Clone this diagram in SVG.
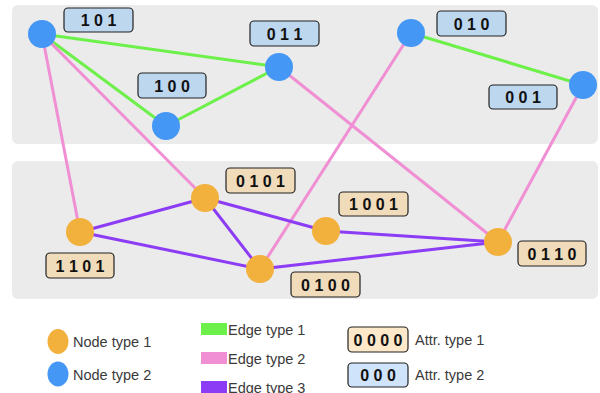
<svg xmlns="http://www.w3.org/2000/svg" width="600" height="393" viewBox="0 0 600 393">
<style>
.panel{fill:#EBEBEB}
.e{stroke-width:3;fill:none}
.g{stroke:#6DF04A}.p{stroke:#F08FD3}.v{stroke:#8C3CF5}
.bn{fill:#4497F5}.on{fill:#F2B03C}
.bl{fill:#BDD7EF;stroke:#222;stroke-width:1.2}
.ol{fill:#F0DBBA;stroke:#222;stroke-width:1.2}
.lt{font-family:"Liberation Sans",Arial,sans-serif;font-size:16px;font-weight:bold;fill:#111;text-anchor:middle}
.lg{font-family:"Liberation Sans",Arial,sans-serif;font-size:14.5px;fill:#3a3a3a}
</style>
<rect class="panel" x="12" y="5" width="586" height="139" rx="6"/>
<rect class="panel" x="12" y="161" width="586" height="138" rx="6"/>
<g id="connectors">
<line class="e g" x1="42" y1="34" x2="279" y2="67"/>
<line class="e g" x1="42" y1="34" x2="166" y2="126"/>
<line class="e g" x1="166" y1="126" x2="279" y2="67"/>
<line class="e g" x1="411" y1="33" x2="583" y2="85"/>
<line class="e p" x1="42" y1="34" x2="80" y2="232"/>
<line class="e p" x1="42" y1="34" x2="205" y2="198"/>
<line class="e p" x1="279" y1="67" x2="498" y2="242"/>
<line class="e p" x1="411" y1="33" x2="260" y2="269"/>
<line class="e p" x1="583" y1="85" x2="498" y2="242"/>
<line class="e v" x1="80" y1="232" x2="205" y2="198"/>
<line class="e v" x1="80" y1="232" x2="260" y2="269"/>
<line class="e v" x1="205" y1="198" x2="260" y2="269"/>
<line class="e v" x1="205" y1="198" x2="326" y2="231"/>
<line class="e v" x1="326" y1="231" x2="498" y2="242"/>
<line class="e v" x1="260" y1="269" x2="498" y2="242"/>
</g>
<g id="n101"><circle class="bn" cx="42" cy="34" r="14"/><rect class="bl" x="64" y="8" width="69" height="24" rx="4"/><text class="lt" x="98.5" y="26">1 0 1</text></g>
<g id="n011"><circle class="bn" cx="279" cy="67" r="14"/><rect class="bl" x="250" y="21" width="69" height="25" rx="4"/><text class="lt" x="284.5" y="39.5">0 1 1</text></g>
<g id="n100"><circle class="bn" cx="166" cy="126" r="14"/><rect class="bl" x="138" y="73" width="68" height="25" rx="4"/><text class="lt" x="172" y="91.5">1 0 0</text></g>
<g id="n010"><circle class="bn" cx="411" cy="33" r="14"/><rect class="bl" x="437" y="11" width="69" height="25" rx="4"/><text class="lt" x="471.5" y="29.5">0 1 0</text></g>
<g id="n001"><circle class="bn" cx="583" cy="85" r="14"/><rect class="bl" x="489" y="85" width="68" height="24" rx="4"/><text class="lt" x="523" y="103">0 0 1</text></g>
<g id="n0101"><circle class="on" cx="205" cy="198" r="14"/><rect class="ol" x="226" y="168" width="69" height="25" rx="4"/><text class="lt" x="260.5" y="186.5">0 1 0 1</text></g>
<g id="n1101"><circle class="on" cx="80" cy="232" r="14"/><rect class="ol" x="46" y="253" width="68" height="25" rx="4"/><text class="lt" x="80" y="271.5">1 1 0 1</text></g>
<g id="n0100"><circle class="on" cx="260" cy="269" r="14"/><rect class="ol" x="291" y="272" width="69" height="25" rx="4"/><text class="lt" x="325.5" y="290.5">0 1 0 0</text></g>
<g id="n1001"><circle class="on" cx="326" cy="231" r="14"/><rect class="ol" x="339" y="192" width="69" height="24" rx="4"/><text class="lt" x="373.5" y="210">1 0 0 1</text></g>
<g id="n0110"><circle class="on" cx="498" cy="242" r="14"/><rect class="ol" x="518" y="241" width="68" height="25" rx="4"/><text class="lt" x="552" y="259.5">0 1 1 0</text></g>
<g id="legend">
<ellipse class="on" cx="58" cy="341.5" rx="10.5" ry="12.5"/><text class="lg" x="73" y="347">Node type 1</text>
<ellipse class="bn" cx="58" cy="374" rx="10.5" ry="12.5"/><text class="lg" x="73" y="380">Node type 2</text>
<rect x="201" y="323" width="26" height="12" fill="#6DF04A"/><text class="lg" x="228" y="335">Edge type 1</text>
<rect x="201" y="352" width="26" height="12" fill="#F08FD3"/><text class="lg" x="228" y="364">Edge type 2</text>
<rect x="201" y="381" width="26" height="12" fill="#8C3CF5"/><text class="lg" x="228" y="393">Edge type 3</text>
<rect x="348" y="327" width="60" height="25" rx="4" fill="#FDE8C9" stroke="#222" stroke-width="1.2"/><text class="lt" x="378" y="345.5">0 0 0 0</text><text class="lg" x="415" y="345">Attr. type 1</text>
<rect x="348" y="363" width="60" height="24" rx="4" fill="#CFE3FA" stroke="#222" stroke-width="1.2"/><text class="lt" x="378" y="381">0 0 0</text><text class="lg" x="415" y="380">Attr. type 2</text>
</g>
</svg>
